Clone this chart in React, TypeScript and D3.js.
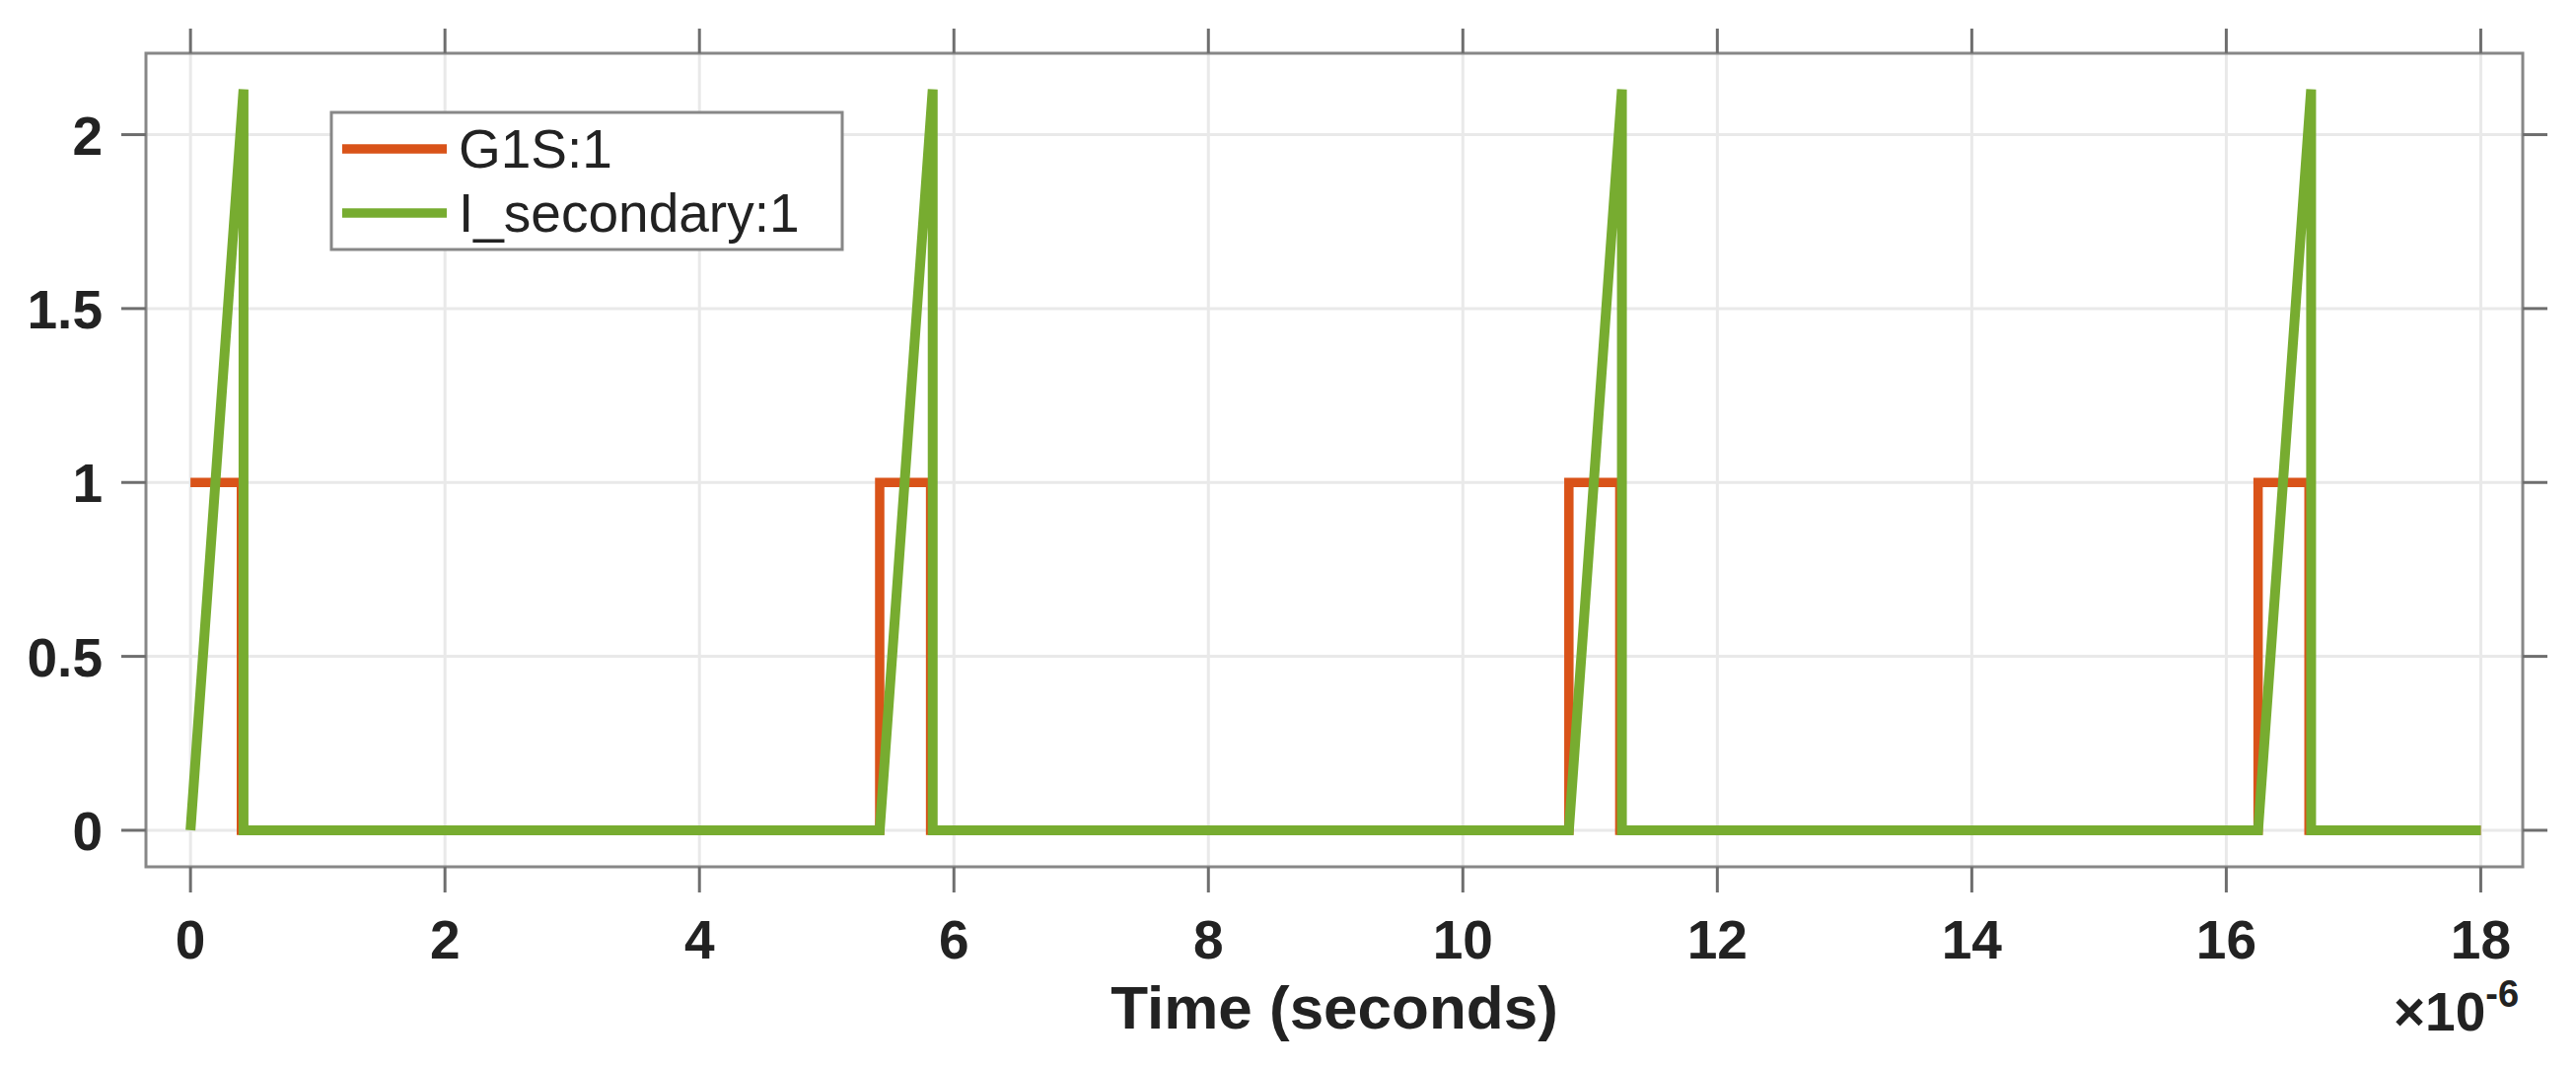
import * as d3 from 'd3';

// time in microseconds (axis shows x10^-6)
const g1sTime = [0, 0.4, 0.4, 5.4167, 5.4167, 5.8167, 5.8167, 10.8333, 10.8333, 11.2333, 11.2333, 16.25, 16.25, 16.65, 16.65, 18];
const g1sValue = [1, 1, 0, 0, 1, 1, 0, 0, 1, 1, 0, 0, 1, 1, 0, 0];

const iSecTime = [0, 0.4167, 0.4167, 5.4167, 5.8333, 5.8333, 10.8333, 11.25, 11.25, 16.25, 16.6667, 16.6667, 18];
const iSecValue = [0, 2.13, 0, 0, 2.13, 0, 0, 2.13, 0, 0, 2.13, 0, 0];

const xTicks = [0, 2, 4, 6, 8, 10, 12, 14, 16, 18];
const yTicks = [0, 0.5, 1, 1.5, 2];
const yTickLabels = ['0', '0.5', '1', '1.5', '2'];

const seriesNames = ['G1S:1', 'I_secondary:1'];
const seriesColors = ['#D95319', '#77AC30'];

const W = 2612;
const H = 1082;
const left = 148, right = 2558, top = 54, bottom = 879;

export default function App() {
  const x = d3.scaleLinear().domain([-0.35, 18.33]).range([left, right]);
  const y = d3.scaleLinear().domain([-0.105, 2.234]).range([bottom, top]);

  const line = d3.line<[number, number]>()
    .x(d => x(d[0]))
    .y(d => y(d[1]));

  const g1s = line(g1sTime.map((t, i) => [t, g1sValue[i]] as [number, number])) || '';
  const isec = line(iSecTime.map((t, i) => [t, iSecValue[i]] as [number, number])) || '';

  const font = '"Liberation Sans", Arial, sans-serif';
  const tickColor = '#6e6e6e';
  const boxColor = '#878787';
  const textColor = '#222';

  return (
    <svg width={W} height={H} style={{ position: 'absolute', left: 0, top: 0, background: '#fff' }}>
      <rect x={0} y={0} width={W} height={H} fill="#fff" />

      {/* grid */}
      {xTicks.map(t => (
        <line key={'gx' + t} x1={x(t)} x2={x(t)} y1={top} y2={bottom} stroke="#e9e9e9" strokeWidth={3} />
      ))}
      {yTicks.map(t => (
        <line key={'gy' + t} x1={left} x2={right} y1={y(t)} y2={y(t)} stroke="#e9e9e9" strokeWidth={3} />
      ))}

      {/* data */}
      <path d={g1s} fill="none" stroke={seriesColors[0]} strokeWidth={9.5} />
      <path d={isec} fill="none" stroke={seriesColors[1]} strokeWidth={10} />

      {/* box */}
      <rect x={left} y={top} width={right - left} height={bottom - top} fill="none" stroke={boxColor} strokeWidth={3} />

      {/* ticks, outward */}
      {xTicks.map(t => (
        <g key={'tx' + t}>
          <line x1={x(t)} x2={x(t)} y1={bottom} y2={bottom + 26} stroke={tickColor} strokeWidth={3} />
          <line x1={x(t)} x2={x(t)} y1={top} y2={top - 25} stroke={tickColor} strokeWidth={3} />
          <text x={x(t)} y={972} textAnchor="middle" fontFamily={font} fontWeight="bold" fontSize={55} fill={textColor}>
            {t}
          </text>
        </g>
      ))}
      {yTicks.map((t, i) => (
        <g key={'ty' + t}>
          <line x1={left} x2={left - 25} y1={y(t)} y2={y(t)} stroke={tickColor} strokeWidth={3} />
          <line x1={right} x2={right + 25} y1={y(t)} y2={y(t)} stroke={tickColor} strokeWidth={3} />
          <text x={104} y={y(t) + 20} textAnchor="end" fontFamily={font} fontWeight="bold" fontSize={55} fill={textColor}>
            {yTickLabels[i]}
          </text>
        </g>
      ))}

      {/* x label and exponent */}
      <text x={(left + right) / 2} y={1043} textAnchor="middle" fontFamily={font} fontWeight="bold" fontSize={62} fill={textColor}>
        Time (seconds)
      </text>
      <text x={2427} y={1045} fontFamily={font} fontWeight="bold" fontSize={55} fill={textColor}>
        ×10<tspan dy={-24} fontSize={38}>-6</tspan>
      </text>

      {/* legend */}
      <rect x={336} y={114} width={518} height={139} fill="#fff" stroke={boxColor} strokeWidth={3} />
      {seriesNames.map((name, i) => (
        <g key={name}>
          <line x1={347} x2={453} y1={151 + i * 65} y2={151 + i * 65} stroke={seriesColors[i]} strokeWidth={9.5} />
          <text x={465} y={170 + i * 65} fontFamily={font} fontSize={55} fill={textColor}>
            {name}
          </text>
        </g>
      ))}
    </svg>
  );
}
